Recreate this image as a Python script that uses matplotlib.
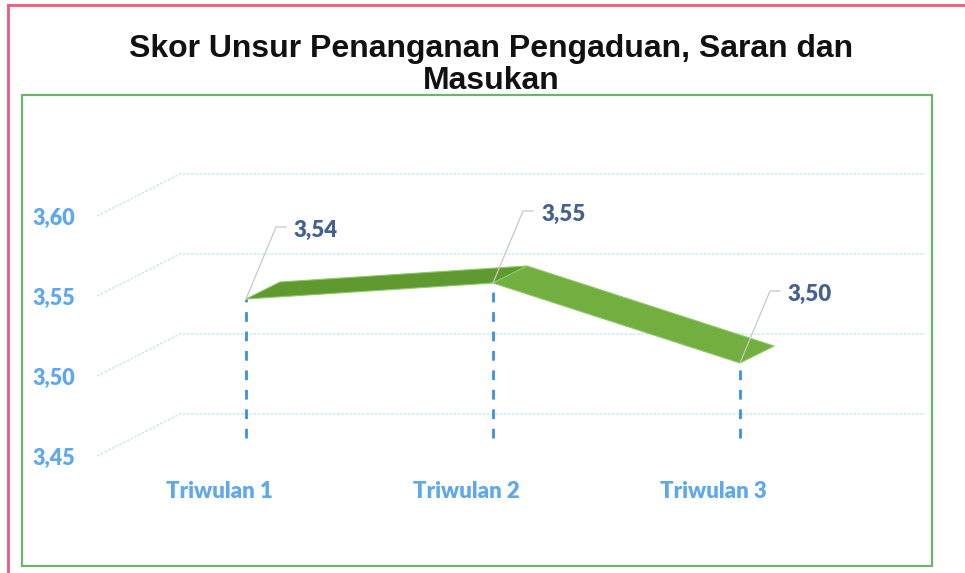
import matplotlib
matplotlib.use("Agg")
import matplotlib.pyplot as plt
from matplotlib.patches import Polygon, Rectangle
from matplotlib.lines import Line2D

# ---- data ----
categories = ["Triwulan 1", "Triwulan 2", "Triwulan 3"]
scores = [3.54, 3.55, 3.50]
score_labels = ["3,54", "3,55", "3,50"]
y_ticks = [3.45, 3.50, 3.55, 3.60]
y_tick_labels = ["3,45", "3,50", "3,55", "3,60"]
title = "Skor Unsur Penanganan Pengaduan, Saran dan\nMasukan"

# ---- figure / geometry (pixels) ----
W, H = 965, 573
fig = plt.figure(figsize=(W / 100, H / 100), dpi=100)

PX_PER_CAT = 247.0
PX_PER_UNIT = 1600.0
x0_px = 219.0          # pixel x of category 0 on the front plane
ybase_px = 456.0       # pixel y of 3.45 on the front plane
left_px, right_px = 97.0, 925.0
ylo, yhi = 3.45, 3.65

ax = fig.add_axes([left_px / W, (H - ybase_px) / H,
                   (right_px - left_px) / W, (yhi - ylo) * PX_PER_UNIT / H])
xlo = (left_px - x0_px) / PX_PER_CAT
xhi = (right_px - x0_px) / PX_PER_CAT
ax.set_xlim(xlo, xhi)
ax.set_ylim(ylo, yhi)
for s in ax.spines.values():
    s.set_visible(False)

def dxc(px):
    return px / PX_PER_CAT

def dyv(px):
    return px / PX_PER_UNIT

tick_color = "#5FA8EE"
label_font = "Lato"

# perspective gridlines (depth offset of back wall)
wall_dx, wall_dy = 83, 42
for v in y_ticks:
    ax.plot([xlo, xlo + dxc(wall_dx), xhi], [v, v + dyv(wall_dy), v + dyv(wall_dy)],
            color="#C6E8F2", lw=1.0, ls=(0, (2, 1)), clip_on=False, zorder=1)

ax.set_yticks(y_ticks)
ax.set_yticklabels(y_tick_labels)
ax.set_xticks(range(len(categories)))
ax.set_xticklabels(categories)
ax.tick_params(axis="y", length=0, pad=16, labelsize=15.5, labelcolor=tick_color)
ax.tick_params(axis="x", length=0, pad=18, labelsize=16, labelcolor=tick_color)
for t in ax.get_yticklabels() + ax.get_xticklabels():
    t.set_fontfamily(label_font)
    t.set_fontweight("heavy")

# ribbon (3D line look): front edge and back edge offsets
f_dx, f_dy = 27, 13
b_dx, b_dy = 61, 30
seg_colors = ["#5E9A30", "#72AE40"]
xs = list(range(len(scores)))
for i in range(len(scores) - 1):
    pts = [
        (xs[i] + dxc(f_dx), scores[i] + dyv(f_dy)),
        (xs[i + 1] + dxc(f_dx), scores[i + 1] + dyv(f_dy)),
        (xs[i + 1] + dxc(b_dx), scores[i + 1] + dyv(b_dy)),
        (xs[i] + dxc(b_dx), scores[i] + dyv(b_dy)),
    ]
    ax.add_patch(Polygon(pts, closed=True, facecolor=seg_colors[i],
                         edgecolor="#8CC864", lw=0.8, zorder=3, clip_on=False))

# drop lines
for x, v in zip(xs, scores):
    ax.plot([x + dxc(f_dx), x + dxc(f_dx)], [ylo + dyv(f_dy + 5), v + dyv(f_dy)],
            color="#3F8FE0", lw=2.0, ls=(0, (3.5, 3.5)), zorder=4, clip_on=False)

# data labels with leader lines
lead_dx, lead_dy = 40, 72
for x, v, lab in zip(xs, scores, score_labels):
    px = x + dxc(f_dx)
    py = v + dyv(f_dy)
    ex = px + dxc(lead_dx)
    ey = py + dyv(lead_dy)
    ax.plot([px, ex - dxc(10), ex], [py, ey, ey], color="#C8C8C8", lw=0.9,
            zorder=5, clip_on=False)
    ax.text(ex + dxc(8), ey - dyv(3), lab, ha="left", va="center", fontsize=16,
            fontweight="heavy", color="#44618F", family=label_font, zorder=6)

# title
fig.text(491 / W, 1 - 65 / H, title, ha="center", va="center", fontsize=23,
         fontweight="bold", family="Liberation Sans", color="#111111",
         linespacing=1.12)

# borders
fig.add_artist(Rectangle((22 / W, 1 - 566 / H), (932 - 22) / W, (566 - 95) / H,
                         transform=fig.transFigure, fill=False,
                         edgecolor="#6CB46C", lw=1.6))
fig.add_artist(Line2D([8 / W, 8 / W], [0, 1 - 5 / H], transform=fig.transFigure,
                      color="#EE5A7A", lw=2.0))
fig.add_artist(Line2D([8 / W, 1], [1 - 5 / H, 1 - 5 / H], transform=fig.transFigure,
                      color="#EE5A7A", lw=2.0))

fig.savefig("out.png", dpi=100, facecolor="white")
